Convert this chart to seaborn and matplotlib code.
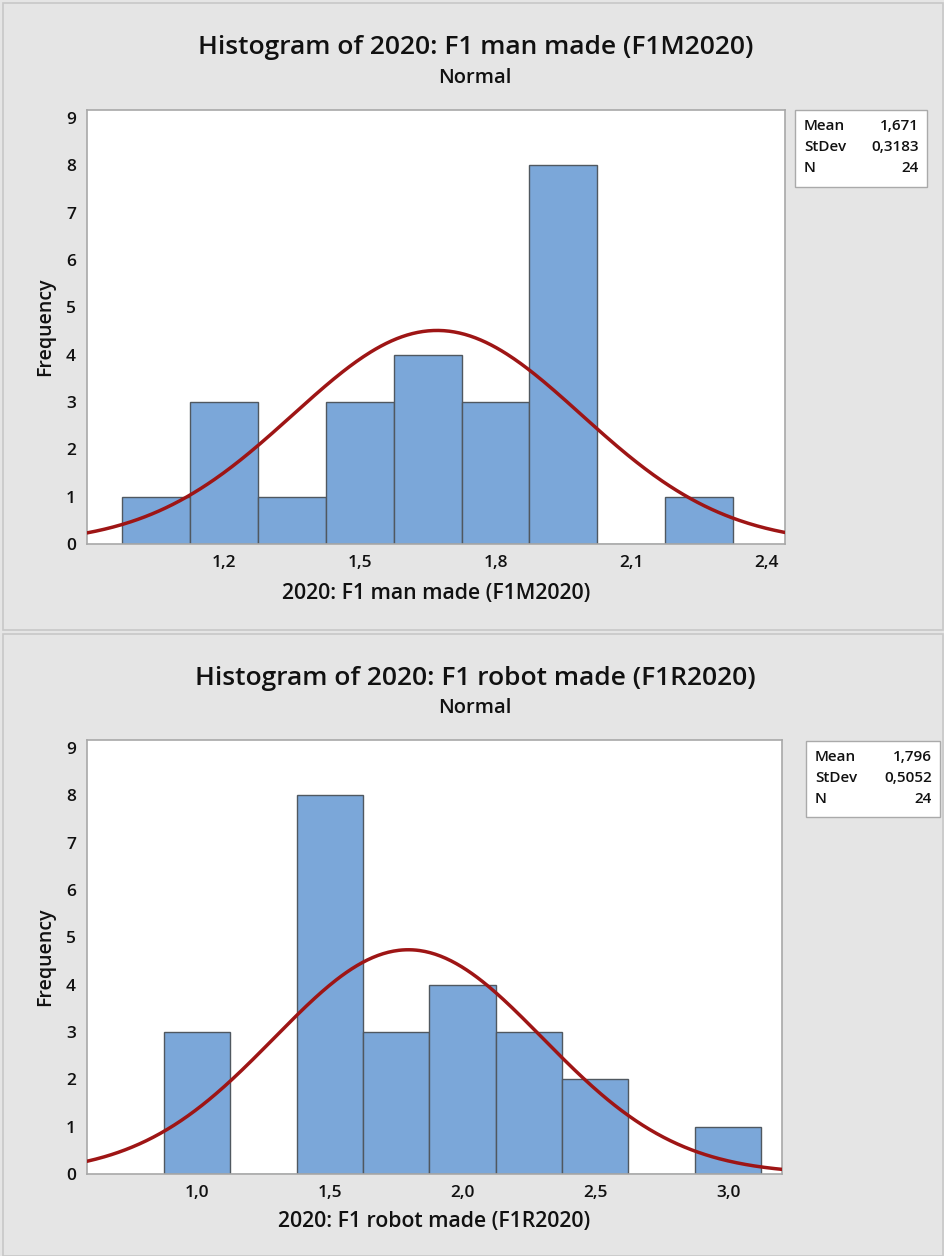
import numpy as np
import matplotlib
matplotlib.use("Agg")
import matplotlib.pyplot as plt
import seaborn as sns
from matplotlib.patches import Rectangle

# ---------------- data ----------------
man_centers = [1.05, 1.20, 1.35, 1.50, 1.65, 1.80, 1.95, 2.10, 2.25]
man_counts = [1, 3, 1, 3, 4, 3, 8, 0, 1]
man_width = 0.15
man_mean, man_sd, man_n = 1.671, 0.3183, 24
man_xticks = [1.2, 1.5, 1.8, 2.1, 2.4]
man_xticklabels = ["1,2", "1,5", "1,8", "2,1", "2,4"]

rob_centers = [1.0, 1.25, 1.5, 1.75, 2.0, 2.25, 2.5, 2.75, 3.0]
rob_counts = [3, 0, 8, 3, 4, 3, 2, 0, 1]
rob_width = 0.25
rob_mean, rob_sd, rob_n = 1.796, 0.5052, 24
rob_xticks = [1.0, 1.5, 2.0, 2.5, 3.0]
rob_xticklabels = ["1,0", "1,5", "2,0", "2,5", "3,0"]

y_ticks = list(range(10))

titles = ["Histogram of 2020: F1 man made (F1M2020)",
          "Histogram of 2020: F1 robot made (F1R2020)"]
xlabels = ["2020: F1 man made (F1M2020)", "2020: F1 robot made (F1R2020)"]
stats_text = [("1,671", "0,3183", "24"), ("1,796", "0,5052", "24")]

# ---------------- style ----------------
sns.set_style("white")
plt.rcParams['font.family'] = ['Open Sans', 'DejaVu Sans']

BG = "#E5E5E5"
BAR = "#7BA7D9"
BAR_EDGE = "#505860"
CURVE = "#9E1515"
SPINE = "#A8A8A8"

W, H = 945, 1256
fig = plt.figure(figsize=(W / 100, H / 100), dpi=100)
fig.patch.set_facecolor(BG)

# panel borders
for (y0, y1) in [(3, 630), (634, 1256)]:
    fig.patches.append(Rectangle((3 / W, 1 - y1 / H), (W - 5) / W, (y1 - y0) / H,
                                 transform=fig.transFigure, facecolor=BG,
                                 edgecolor="#C8C8C8", linewidth=1.2, zorder=-5))

def px(x0, y0, x1, y1):
    return [x0 / W, 1 - y1 / H, (x1 - x0) / W, (y1 - y0) / H]

panels = [
    dict(rect=px(87, 110, 785, 544), centers=man_centers, counts=man_counts,
         width=man_width, mean=man_mean, sd=man_sd, n=man_n, xlim=(0.897, 2.44),
         xticks=man_xticks, xtl=man_xticklabels, title_y=47, sub_y=78, xlab_y=593,
         box=(795, 110, 927, 187)),
    dict(rect=px(87, 740, 782, 1174), centers=rob_centers, counts=rob_counts,
         width=rob_width, mean=rob_mean, sd=rob_sd, n=rob_n, xlim=(0.586, 3.203),
         xticks=rob_xticks, xtl=rob_xticklabels, title_y=678, sub_y=708, xlab_y=1222,
         box=(806, 741, 940, 817)),
]

for i, p in enumerate(panels):
    ax = fig.add_axes(p["rect"])
    ax.set_zorder(2)
    ax.set_facecolor("white")
    edges = [c - p["width"] / 2 for c in p["centers"]] + [p["centers"][-1] + p["width"] / 2]
    sns.histplot(x=p["centers"], weights=p["counts"], bins=edges, ax=ax,
                 color=BAR, edgecolor=BAR_EDGE, linewidth=1.0, alpha=1.0, zorder=2)
    xs = np.linspace(p["xlim"][0], p["xlim"][1], 400)
    ys = p["n"] * p["width"] * np.exp(-0.5 * ((xs - p["mean"]) / p["sd"]) ** 2) / (p["sd"] * np.sqrt(2 * np.pi))
    sns.lineplot(x=xs, y=ys, ax=ax, color=CURVE, linewidth=2.5, zorder=3)
    ax.set_xlim(*p["xlim"])
    ax.set_ylim(0, 9.17)
    ax.set_xticks(p["xticks"])
    ax.set_xticklabels(p["xtl"], fontsize=12.5, fontweight="semibold")
    ax.set_yticks(y_ticks)
    ax.set_yticklabels([str(v) for v in y_ticks], fontsize=12.5, fontweight="semibold")
    ax.tick_params(axis="both", direction="out", length=5, width=1, color=SPINE,
                   pad=3, labelcolor="#111111")
    for s in ax.spines.values():
        s.set_color(SPINE)
        s.set_linewidth(1.2)
    ax.set_xlabel("")
    ax.set_ylabel("")
    cx = (p["rect"][0] + p["rect"][2] / 2)
    fig.text(0.503, 1 - p["title_y"] / H, titles[i], ha="center", va="center",
             fontsize=19, fontweight="semibold", color="#111111")
    fig.text(0.502, 1 - p["sub_y"] / H, "Normal", ha="center", va="center",
             fontsize=14.5, fontweight="semibold", color="#111111")
    fig.text(cx, 1 - p["xlab_y"] / H, xlabels[i], ha="center", va="center",
             fontsize=15.3, fontweight="semibold", color="#111111")
    fig.text(45 / W, p["rect"][1] + p["rect"][3] / 2, "Frequency", rotation=90,
             ha="center", va="center", fontsize=14, fontweight="semibold", color="#111111")
    # stats box
    bx0, by0, bx1, by1 = p["box"]
    fig.patches.append(Rectangle((bx0 / W, 1 - by1 / H), (bx1 - bx0) / W, (by1 - by0) / H,
                                 transform=fig.transFigure, facecolor="white",
                                 edgecolor="#AAAAAA", linewidth=1.0, zorder=1))
    labels = ["Mean", "StDev", "N"]
    for j, (lab, val) in enumerate(zip(labels, stats_text[i])):
        yy = 1 - (by0 + 16 + j * 21) / H
        fig.text((bx0 + 9) / W, yy, lab, ha="left", va="center", fontsize=11,
                 fontweight="semibold", color="#111111", zorder=5)
        fig.text((bx1 - 8) / W, yy, val, ha="right", va="center", fontsize=11,
                 fontweight="semibold", color="#111111", zorder=5)

fig.savefig("out.png", dpi=100, facecolor=fig.get_facecolor())
